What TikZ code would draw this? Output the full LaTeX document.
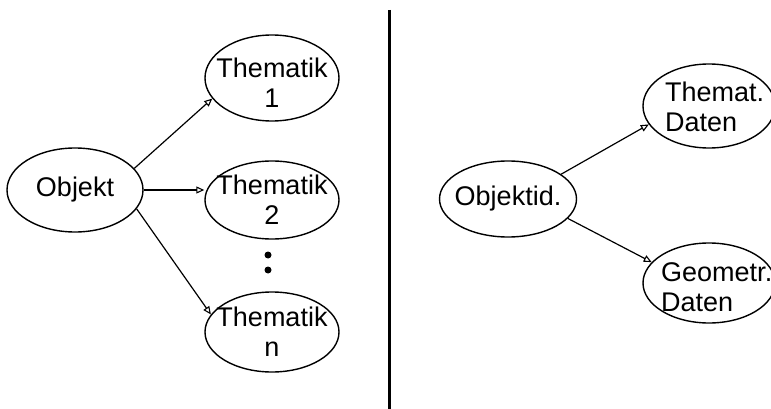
\documentclass[tikz,border=0pt]{standalone}
\usepackage{fontspec}
\setmainfont{Liberation Sans}
\usetikzlibrary{arrows.meta,shapes.geometric}

\tikzset{
  oval/.style={ellipse, draw, line width=1.4pt, inner sep=0pt,
    minimum width=134pt, minimum height=80pt},
  txt/.style={inner sep=0pt, align=center,
    font=\fontsize{27}{30}\selectfont},
  ltxt/.style={txt, align=left, anchor=west},
  link/.style={line width=1.2pt,
    -{Triangle[open, length=8pt, width=7pt, line width=1.1pt]}},
  divider/.style={line width=3pt}
}

\begin{document}
\begin{tikzpicture}[x=1pt, y=-1pt]
  \useasboundingbox (0,0) rectangle (771,409);
  \clip (0,0) rectangle (771,409);

  % left: one object with several thematic layers
  \node[oval, minimum width=136pt, minimum height=84pt,
        label={[txt]center:Objekt}] (obj) at (75,190) {};
  \node[oval, minimum height=86pt,
        label={[txt, yshift=-5pt]center:Thematik\\1}] (th1) at (272,78) {};
  \node[oval, minimum height=78pt,
        label={[txt]center:Thematik\\2}] (th2) at (272,200) {};
  \node[oval, label={[txt]center:Thematik\\n}] (thn) at (272,332) {};
  \fill (268,255) circle (3.5pt) (268,270) circle (3.5pt);

  \draw[link] (obj.20) -- (th1.199);
  \draw[link] (obj.east) -- (th2.west |- obj.east);
  \draw[link] (obj.-17) -- (thn.164);

  % separator
  \coordinate (top) at (389,10);
  \coordinate (bot) at (389,409);
  \draw[divider] (top) -- (bot);

  % right: object id with thematic and geometric data
  \node[oval, minimum width=137pt, minimum height=76pt,
        label={[txt]center:Objektid.}] (oid) at (508,199) {};
  \node[oval, minimum width=132pt, minimum height=84pt] (them) at (709,106) {};
  \node[ltxt] (themtxt) at (665,107) {Themat.\\Daten};
  \node[oval, minimum width=132pt, minimum height=80pt] (geo) at (709,283) {};
  \node[ltxt] (geotxt) at (661,287) {Geometr.\\Daten};

  \draw[link] (oid.25) -- (them.197);
  \draw[link] (oid.-18) -- (geo.160);
\end{tikzpicture}
\end{document}
